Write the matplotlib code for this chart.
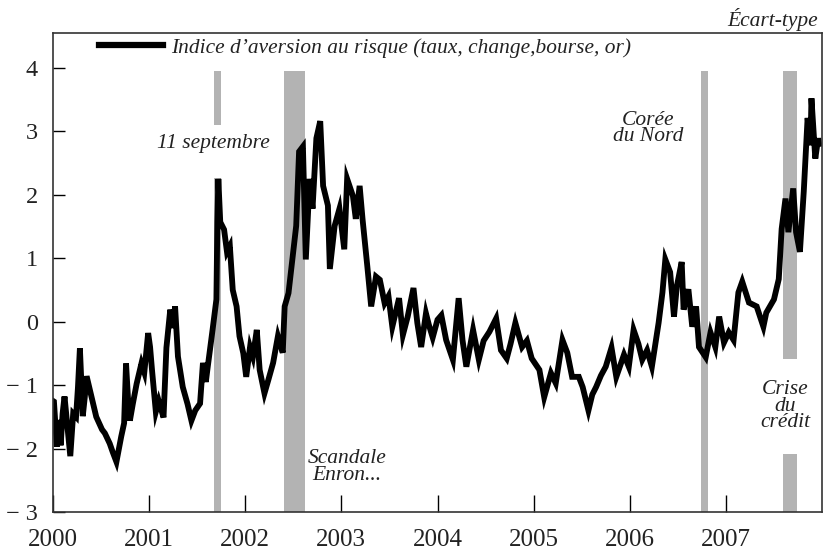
import matplotlib
matplotlib.use("Agg")
import matplotlib.pyplot as plt

plt.rcParams['font.family'] = ['Liberation Serif', 'DejaVu Serif']

dates = [2000.00, 2000.01, 2000.04, 2000.06, 2000.08, 2000.10, 2000.12, 2000.16, 2000.18, 2000.21,
         2000.24, 2000.26, 2000.28, 2000.31, 2000.33, 2000.35, 2000.40, 2000.45, 2000.51, 2000.54,
         2000.59, 2000.62, 2000.66, 2000.71, 2000.74, 2000.76, 2000.78, 2000.80, 2000.83, 2000.87,
         2000.92, 2000.95, 2000.99, 2001.01, 2001.03, 2001.07, 2001.10, 2001.15, 2001.18, 2001.22,
         2001.25, 2001.27, 2001.30, 2001.35, 2001.40, 2001.44, 2001.48, 2001.53, 2001.56, 2001.59,
         2001.61, 2001.66, 2001.70, 2001.71, 2001.72, 2001.74, 2001.78, 2001.81, 2001.84, 2001.87,
         2001.91, 2001.94, 2001.98, 2002.01, 2002.05, 2002.08, 2002.12, 2002.15, 2002.20, 2002.24,
         2002.29, 2002.34, 2002.39, 2002.41, 2002.45, 2002.49, 2002.53, 2002.56, 2002.60, 2002.63,
         2002.67, 2002.70, 2002.74, 2002.78, 2002.81, 2002.86, 2002.88, 2002.93, 2002.98, 2003.03,
         2003.06, 2003.12, 2003.15, 2003.19, 2003.22, 2003.27, 2003.31, 2003.36, 2003.40, 2003.45,
         2003.49, 2003.53, 2003.60, 2003.64, 2003.69, 2003.75, 2003.79, 2003.83, 2003.88, 2003.91,
         2003.95, 2004.00, 2004.04, 2004.09, 2004.16, 2004.22, 2004.26, 2004.30, 2004.37, 2004.43,
         2004.48, 2004.54, 2004.61, 2004.66, 2004.72, 2004.76, 2004.81, 2004.88, 2004.93, 2004.98,
         2005.06, 2005.11, 2005.18, 2005.23, 2005.30, 2005.35, 2005.40, 2005.47, 2005.51, 2005.57,
         2005.61, 2005.65, 2005.70, 2005.75, 2005.81, 2005.86, 2005.94, 2005.99, 2006.04, 2006.09,
         2006.13, 2006.18, 2006.23, 2006.30, 2006.34, 2006.37, 2006.42, 2006.46, 2006.49, 2006.54,
         2006.56, 2006.61, 2006.65, 2006.69, 2006.72, 2006.79, 2006.84, 2006.89, 2006.93, 2006.98,
         2007.03, 2007.08, 2007.13, 2007.17, 2007.24, 2007.32, 2007.39, 2007.42, 2007.50, 2007.55,
         2007.58, 2007.62, 2007.65, 2007.70, 2007.73, 2007.77, 2007.81, 2007.85, 2007.88, 2007.89,
         2007.93, 2007.96, 2007.97]
indice = [-1.25, -1.26, -1.97, -1.55, -1.95, -1.45, -1.18, -1.81, -2.12, -1.45,
          -1.50, -1.03, -0.42, -1.49, -1.20, -0.86, -1.18, -1.50, -1.70, -1.76,
          -1.92, -2.05, -2.21, -1.81, -1.60, -0.66, -1.20, -1.56, -1.30, -0.98,
          -0.66, -0.80, -0.18, -0.40, -0.76, -1.42, -1.25, -1.51, -0.41, 0.19,
          -0.10, 0.24, -0.55, -1.03, -1.30, -1.56, -1.40, -1.29, -0.65, -0.95,
          -0.71, -0.13, 0.35, 1.57, 2.25, 1.57, 1.45, 1.10, 1.19, 0.50,
          0.24, -0.23, -0.50, -0.87, -0.40, -0.55, -0.13, -0.76, -1.13, -0.92,
          -0.65, -0.23, -0.49, 0.24, 0.45, 0.98, 1.51, 2.68, 2.76, 0.98,
          2.25, 1.78, 2.89, 3.16, 2.14, 1.83, 0.83, 1.51, 1.78, 1.14,
          2.25, 1.98, 1.62, 2.14, 1.62, 0.87, 0.24, 0.71, 0.66, 0.29,
          0.40, -0.08, 0.37, -0.21, 0.08, 0.53, -0.02, -0.40, 0.13, -0.05,
          -0.25, 0.03, 0.10, -0.29, -0.60, 0.37, -0.29, -0.71, -0.13, -0.60,
          -0.30, -0.16, 0.05, -0.45, -0.58, -0.35, -0.02, -0.40, -0.30, -0.58,
          -0.76, -1.19, -0.81, -0.97, -0.29, -0.49, -0.87, -0.87, -1.03, -1.40,
          -1.15, -1.03, -0.85, -0.71, -0.41, -0.87, -0.52, -0.71, -0.13, -0.35,
          -0.60, -0.45, -0.71, -0.02, 0.46, 0.98, 0.78, 0.08, 0.56, 0.94,
          0.19, 0.51, -0.08, 0.24, -0.40, -0.56, -0.17, -0.40, 0.08, -0.33,
          -0.17, -0.29, 0.46, 0.63, 0.30, 0.24, -0.08, 0.14, 0.35, 0.67,
          1.46, 1.94, 1.41, 2.10, 1.41, 1.10, 2.05, 3.21, 2.78, 3.52,
          2.57, 2.89, 2.80]

# bandes grises : debut, fin, bas, haut
bandes_debut = [2001.68, 2001.68, 2002.40, 2006.74, 2007.595, 2007.595]
bandes_fin = [2001.75, 2001.75, 2002.625, 2006.815, 2007.74, 2007.74]
bandes_bas = [-3, 3.10, -3, -3, -3, -0.59]
bandes_haut = [2.26, 3.95, 3.95, 3.95, -2.09, 3.95]

annotations = ["11 septembre", "Scandale\nEnron...", "Corée\ndu Nord", "Crise\ndu\ncrédit"]
annot_x = [2001.67, 2003.06, 2006.19, 2007.62]
annot_y = [2.81, -2.29, 3.05, -1.33]

annees = [2000, 2001, 2002, 2003, 2004, 2005, 2006, 2007]
yticks = [-3, -2, -1, 0, 1, 2, 3, 4]
ylabels = ["\u2212 3", "\u2212 2", "\u2212 1", "0", "1", "2", "3", "4"]

fig = plt.figure(figsize=(8.24, 5.52), dpi=100)
ax = fig.add_axes([0.0643, 0.0725, 0.9333, 0.8678])

for i in range(len(bandes_debut)):
    ax.fill_betweenx([bandes_bas[i], bandes_haut[i]], bandes_debut[i], bandes_fin[i],
                     color='#b3b3b3', linewidth=0, zorder=1)

ax.plot(dates, indice, color='black', linewidth=4.2, solid_joinstyle='miter', zorder=2,
        label="Indice d\u2019aversion au risque (taux, change,bourse, or)")

for i in range(len(annotations)):
    ax.text(annot_x[i], annot_y[i], annotations[i], ha='center', va='center',
            fontsize=15.5, style='italic', color='#222222', linespacing=0.8)

ax.set_xlim(2000, 2008)
ax.set_ylim(-3, 4.55)
ax.set_xticks(annees)
ax.set_xticklabels([str(a) for a in annees], fontsize=18, color='#222222')
ax.set_yticks(yticks)
ax.set_yticklabels(ylabels, fontsize=17.5, color='#222222')
ax.tick_params(axis='x', direction='in', length=12, width=1, pad=12)
ax.tick_params(axis='y', direction='in', length=8.5, width=1, pad=11)
for s in ax.spines.values():
    s.set_linewidth(1.2)
    s.set_color('#333333')

leg = ax.legend(loc='center left', bbox_to_anchor=(0.0598, 0.9687), frameon=False,
                handlelength=3.0, handletextpad=0.35, borderpad=0, borderaxespad=0,
                prop={'size': 15.4, 'style': 'italic'})
leg.get_lines()[0].set_linewidth(4.5)
for t in leg.get_texts():
    t.set_color('#222222')

fig.text(0.993, 0.965, "\u00c9cart-type", ha='right', va='center', fontsize=15.5,
         style='italic', color='#222222')

fig.savefig("out.png", dpi=100)
